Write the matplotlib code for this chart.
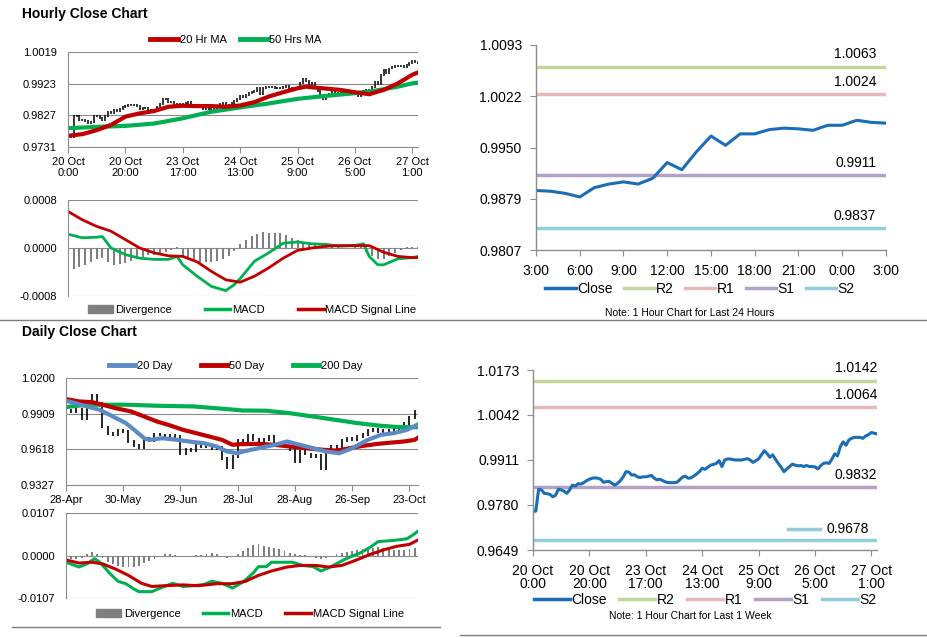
import numpy as np
import matplotlib
matplotlib.use('Agg')
import matplotlib.pyplot as plt
import matplotlib.transforms as mtrans
from matplotlib.lines import Line2D
from matplotlib.patches import Patch

plt.rcParams['font.family'] = ['Liberation Sans', 'DejaVu Sans']

# ---------------- data ----------------
hourly_tick_idx = [0, 20, 40, 60, 80, 100, 120]
hourly_labels = ['20 Oct\n0:00', '20 Oct\n20:00', '23 Oct\n17:00', '24 Oct\n13:00',
                 '25 Oct\n9:00', '26 Oct\n5:00', '27 Oct\n1:00']
hourly_close = [0.9762, 0.9762, 0.9826, 0.9824, 0.9814, 0.9813, 0.9811, 0.9804, 0.9808, 0.9826,
                0.9824, 0.9820, 0.9814, 0.9824, 0.9838, 0.9835, 0.9842, 0.9841, 0.9845, 0.9851,
                0.9855, 0.9858, 0.9859, 0.9858, 0.9855, 0.9846, 0.9848, 0.9849, 0.9843, 0.9838,
                0.9843, 0.9851, 0.9862, 0.9877, 0.9876, 0.9867, 0.9868, 0.9862, 0.9860, 0.9862,
                0.9862, 0.9864, 0.9866, 0.9858, 0.9853, 0.9855, 0.9851, 0.9847, 0.9845, 0.9845,
                0.9845, 0.9846, 0.9853, 0.9861, 0.9864, 0.9858, 0.9859, 0.9864, 0.9870, 0.9877,
                0.9887, 0.9884, 0.9890, 0.9896, 0.9898, 0.9901, 0.9909, 0.9892, 0.9911, 0.9914,
                0.9914, 0.9912, 0.9911, 0.9911, 0.9911, 0.9913, 0.9915, 0.9911, 0.9904, 0.9909,
                0.9914, 0.9926, 0.9938, 0.9930, 0.9919, 0.9926, 0.9913, 0.9901, 0.9890, 0.9877,
                0.9885, 0.9892, 0.9899, 0.9896, 0.9894, 0.9895, 0.9892, 0.9895, 0.9892, 0.9892,
                0.9891, 0.9885, 0.9894, 0.9901, 0.9903, 0.9901, 0.9913, 0.9929, 0.9923, 0.9950,
                0.9964, 0.9954, 0.9969, 0.9974, 0.9977, 0.9977, 0.9977, 0.9974, 0.9981, 0.9985,
                0.9991, 0.9989, 0.9987]
ma20_idx = [0, 5, 10, 15, 20, 25, 30, 35, 40, 45, 50, 55, 60, 65, 70, 75, 80, 83, 85, 90,
            95, 100, 105, 110, 115, 120, 122]
ma20_val = [0.9765, 0.9770, 0.9782, 0.9798, 0.9823, 0.9833, 0.9840, 0.9853, 0.9856, 0.9855,
            0.9855, 0.9853, 0.9857, 0.9867, 0.9884, 0.9897, 0.9909, 0.9914, 0.9912, 0.9908,
            0.9904, 0.9897, 0.9891, 0.9904, 0.9924, 0.9950, 0.9957]
ma50_idx = [0, 10, 20, 30, 40, 50, 60, 70, 80, 90, 100, 105, 110, 115, 120, 122]
ma50_val = [0.9788, 0.9792, 0.9795, 0.9802, 0.9818, 0.9838, 0.9851, 0.9863, 0.9877, 0.9886,
            0.9894, 0.9899, 0.9906, 0.9914, 0.9924, 0.9926]
h_macd_idx = [0, 5, 10, 12, 15, 20, 25, 30, 35, 38, 40, 45, 50, 55, 58, 60, 65, 70, 75, 80,
              85, 90, 95, 100, 103, 105, 108, 110, 113, 115, 120, 122]
h_macd_val = [0.00023, 0.00017, 0.00018, 0.00019, 0.0, -0.00011, -0.00017, -0.00019, -0.00019,
              -0.00014, -0.00028, -0.00047, -0.00064, -0.00071, -0.00061, -0.00051, -0.00022,
              -0.00008, 0.00008, 0.00010, 0.00007, 0.00006, 0.00003, 0.00004, 0.00007, -0.00014,
              -0.00028, -0.00028, -0.00022, -0.00018, -0.00016, -0.00014]
h_sig_idx = [0, 5, 10, 15, 20, 25, 30, 35, 40, 45, 50, 55, 60, 65, 70, 75, 80, 85, 90, 95,
             100, 105, 110, 115, 120, 122]
h_sig_val = [0.00061, 0.00047, 0.00036, 0.00028, 0.00014, 0.0, -0.00008, -0.00013, -0.00014,
             -0.00023, -0.00039, -0.00053, -0.00057, -0.00047, -0.00033, -0.00017, -0.00004,
             0.0, 0.00003, 0.00004, 0.00004, 0.00004, -0.00007, -0.00014, -0.00016, -0.00016]
h_div_val = [-3.8, -3.5, -3.2, -2.8, -2.3, -1.8, -1.6, -2.4, -2.8, -2.7,
             -2.5, -2.2, -1.8, -1.5, -1.2, -1.1, -0.9, -0.7, -0.3, 0.1,
             -1.3, -1.8, -2.2, -2.4, -2.4, -2.4, -2.2, -1.9, -1.4, -0.5,
             0.6, 1.3, 2.0, 2.4, 2.6, 2.5, 2.5, 2.5, 2.2, 1.7,
             1.3, 1.0, 0.7, 0.5, 0.4, 0.3, 0.2, 0.1, 0.0, 0.0,
             0.1, 0.2, -0.6, -1.3, -1.8, -1.9, -1.4, -0.8, -0.3, 0.1,
             0.1, 0.1]  # x1e-4, every 2nd hour

day24_labels = ['3:00', '6:00', '9:00', '12:00', '15:00', '18:00', '21:00', '0:00', '3:00']
day24_close = [0.9890, 0.9889, 0.9886, 0.9881, 0.9894, 0.9899, 0.9902, 0.9899, 0.9907, 0.9929,
               0.9919, 0.9944, 0.9966, 0.9953, 0.9969, 0.9969, 0.9975, 0.9977, 0.9976, 0.9974,
               0.9981, 0.9981, 0.9988, 0.9985, 0.9984]
day24_levels = {'R2': 1.0063, 'R1': 1.0024, 'S1': 0.9911, 'S2': 0.9837}
day24_yticks = ['0.9807', '0.9879', '0.9950', '1.0022', '1.0093']

week_levels = {'R2': 1.0142, 'R1': 1.0064, 'S1': 0.9832, 'S2': 0.9678}
week_yticks = ['0.9649', '0.9780', '0.9911', '1.0042', '1.0173']

daily_tick_idx = [0, 22, 44, 66, 88, 110, 132]
daily_labels = ['28-Apr', '30-May', '29-Jun', '28-Jul', '28-Aug', '26-Sep', '23-Oct']
daily_close = [0.9935, 0.9925, 0.9940, 0.9870, 0.9960, 1.0060, 0.9990, 0.9800, 0.9745, 0.9735,
               0.9770, 0.9760, 0.9680, 0.9650, 0.9630, 0.9705, 0.9690, 0.9740, 0.9735, 0.9720,
               0.9730, 0.9720, 0.9580, 0.9620, 0.9610, 0.9650, 0.9640, 0.9650, 0.9625, 0.9635,
               0.9540, 0.9470, 0.9560, 0.9690, 0.9680, 0.9730, 0.9700, 0.9680, 0.9700, 0.9720,
               0.9660, 0.9650, 0.9640, 0.9620, 0.9520, 0.9600, 0.9580, 0.9560, 0.9570, 0.9460,
               0.9600, 0.9640, 0.9610, 0.9690, 0.9710, 0.9700, 0.9720, 0.9740, 0.9770, 0.9780,
               0.9760, 0.9770, 0.9770, 0.9790, 0.9800, 0.9830, 0.9880, 0.9930]  # every 2nd day
d20_idx = [0, 8, 13, 18, 23, 27, 30, 32, 37, 43, 48, 53, 58, 62, 66, 68, 74, 80, 85, 90, 95,
           100, 105, 110, 116, 121, 126, 131, 135]
d20_val = [1.0015, 0.9968, 0.9940, 0.9886, 0.9832, 0.9763, 0.9709, 0.9695, 0.9709, 0.9695,
           0.9680, 0.9668, 0.9640, 0.9600, 0.9586, 0.9600, 0.9627, 0.9654, 0.9682, 0.9654,
           0.9627, 0.9600, 0.9586, 0.9627, 0.9695, 0.9736, 0.9750, 0.9777, 0.9818]
d50_idx = [0, 5, 10, 14, 19, 25, 30, 35, 40, 45, 50, 55, 60, 64, 67, 74, 80, 86, 92, 99, 104,
           109, 114, 120, 125, 130, 134, 135]
d50_val = [1.0028, 1.0009, 1.0003, 0.9982, 0.9954, 0.9927, 0.9886, 0.9845, 0.9813, 0.9777,
           0.9750, 0.9723, 0.9695, 0.9655, 0.9660, 0.9663, 0.9655, 0.9641, 0.9627, 0.9614,
           0.9608, 0.9627, 0.9646, 0.9663, 0.9673, 0.9682, 0.9695, 0.9709]
d200_idx = [0, 8, 14, 23, 36, 49, 62, 68, 77, 86, 99, 112, 121, 128, 135]
d200_val = [0.9963, 0.9982, 0.9982, 0.9982, 0.9973, 0.9968, 0.9946, 0.9935, 0.9933, 0.9913,
            0.9873, 0.9832, 0.9810, 0.9799, 0.9799]
d_macd_idx = [0, 5, 8, 11, 13, 17, 20, 23, 26, 28, 33, 37, 41, 45, 49, 53, 56, 60, 64, 68,
              72, 74, 77, 79, 83, 87, 91, 95, 98, 101, 105, 109, 113, 117, 120, 126, 131, 133, 135]
d_macd_val = [-1.7, -2.9, -2.1, -0.8, -1.7, -4.6, -6.5, -7.1, -8.4, -9.1, -9.1, -8.0, -7.0,
              -7.8, -7.6, -7.3, -6.5, -7.0, -8.2, -6.7, -4.4, -2.8, -2.8, -1.7, -1.7, -1.7,
              -2.5, -2.8, -3.9, -3.1, -1.7, -0.4, 0.6, 2.1, 3.5, 3.8, 4.2, 5.0, 6.0]  # x1e-3
d_sig_idx = [0, 5, 10, 14, 19, 24, 29, 33, 38, 45, 51, 58, 64, 69, 74, 79, 85, 90, 96, 101,
             106, 111, 117, 122, 127, 132, 135]
d_sig_val = [-1.1, -1.9, -1.7, -2.1, -3.4, -5.0, -7.0, -7.8, -7.6, -7.4, -7.6, -7.1, -7.1,
             -6.5, -5.0, -3.9, -2.9, -2.5, -2.5, -2.9, -2.5, -1.3, 0.3, 1.4, 2.3, 2.8, 3.8]  # x1e-3
d_div_val = [-0.6, -0.8, -1.0, -0.6, 0.3, 0.8, 0.5, -0.6, -1.6, -2.2,
             -2.6, -2.8, -3.0, -3.0, -2.6, -2.0, -1.4, -0.8, -0.2, 0.3,
             0.3, 0.1, -0.2, -0.1, 0.0, 0.1, 0.2, 0.5, 0.6, 0.3,
             -0.2, -0.6, -0.4, 0.5, 1.2, 2.0, 2.6, 2.8, 2.4, 2.2,
             2.0, 1.6, 1.2, 0.7, 0.3, 0.2, 0.1, -0.2, -0.6, -0.9,
             -0.6, -0.2, 0.3, 0.6, 0.8, 1.1, 1.4, 1.6, 1.8, 2.0,
             2.2, 2.0, 1.7, 1.5, 1.4, 1.5, 1.7, 1.9]  # x1e-3, every 2nd day

# ---------------- style ----------------
RED = '#c00000'
GREEN = '#00b050'
BLUE20 = '#5b8ac6'
CLOSE = '#1b6db5'
LEVEL_COL = {'R2': '#c4d79b', 'R1': '#e6b9b8', 'S1': '#b3a2c7', 'S2': '#93cddd'}
GRID = '#8c8c8c'
DIVC = '#7f7f7f'

W, H = 928, 638
fig = plt.figure(figsize=(W / 100, H / 100), dpi=100)


def box(l, t, r, b):
    return fig.add_axes([l / W, 1 - b / H, (r - l) / W, (b - t) / H])


def fx(px):
    return px / W


def fy(py):
    return 1 - py / H


def left_style(ax):
    for s in ['top', 'right']:
        ax.spines[s].set_visible(False)
    for s in ['left', 'bottom']:
        ax.spines[s].set_color(GRID)
        ax.spines[s].set_linewidth(0.8)
    ax.grid(axis='y', color=GRID, linewidth=0.8)
    ax.set_axisbelow(True)
    ax.tick_params(axis='y', length=0, pad=8, labelsize=8)
    ax.tick_params(axis='x', length=4, color=GRID, labelsize=8, pad=3)


def right_style(ax):
    for s in ['top', 'right']:
        ax.spines[s].set_visible(False)
    for s in ['left', 'bottom']:
        ax.spines[s].set_color(GRID)
        ax.spines[s].set_linewidth(1.0)
    ax.tick_params(axis='both', length=4, color=GRID, labelsize=10, pad=6)


# ---------------- Hourly close chart ----------------
fig.text(fx(22), fy(14), 'Hourly Close Chart', fontsize=10, fontweight='bold', va='center')
axh = box(68, 52, 418, 147)
left_style(axh)
hc = np.array(hourly_close)
hx = np.arange(len(hc))
prev = np.concatenate([[hc[0]], hc[:-1]])
axh.vlines(hx, np.minimum(prev, hc) - 0.0003, np.maximum(prev, hc) + 0.0003, color='black', linewidth=1.1)
axh.plot(ma50_idx, ma50_val, color=GREEN, linewidth=3)
axh.plot(ma20_idx, ma20_val, color=RED, linewidth=3)
axh.set_xlim(0, len(hc) - 1)
axh.set_ylim(0.9731, 1.0019)
axh.set_yticks([0.9731, 0.9827, 0.9923, 1.0019])
axh.set_yticklabels(['0.9731', '0.9827', '0.9923', '1.0019'])
axh.set_xticks(hourly_tick_idx)
axh.set_xticklabels(hourly_labels)
axh.legend(handles=[Line2D([], [], color=RED, lw=3.5, label='20 Hr MA'),
                    Line2D([], [], color=GREEN, lw=3.5, label='50 Hrs MA')],
           loc='center', bbox_to_anchor=(fx(236), fy(40)), bbox_transform=fig.transFigure,
           ncol=2, frameon=False, fontsize=8, handlelength=2.5, handletextpad=0.15,
           columnspacing=1.2, borderpad=0)

axhm = box(68, 200, 418, 296)
left_style(axhm)
axhm.tick_params(axis='x', length=0, labelbottom=False)
axhm.spines['bottom'].set_visible(False)
axhm.bar(np.arange(len(h_div_val)) * 2, np.array(h_div_val) * 1e-4, width=0.7, color=DIVC)
axhm.plot(h_macd_idx, h_macd_val, color=GREEN, linewidth=2)
axhm.plot(h_sig_idx, h_sig_val, color=RED, linewidth=2)
axhm.set_xlim(0, len(hc) - 1)
axhm.set_ylim(-0.0008, 0.0008)
axhm.set_yticks([-0.0008, 0.0, 0.0008])
axhm.set_yticklabels(['-0.0008', '0.0000', '0.0008'])
axhm.legend(handles=[Patch(color=DIVC, label='Divergence'),
                     Line2D([], [], color=GREEN, lw=2.5, label='MACD'),
                     Line2D([], [], color=RED, lw=2.5, label='MACD Signal Line')],
            loc='center', bbox_to_anchor=(fx(252), fy(310)), bbox_transform=fig.transFigure,
            ncol=3, frameon=False, fontsize=8, handlelength=2.3, handletextpad=0.15,
            columnspacing=3.0, borderpad=0)

# ---------------- Daily close chart ----------------
fig.text(fx(22), fy(332), 'Daily Close Chart', fontsize=10, fontweight='bold', va='center')
axd = box(66, 378, 418, 485)
left_style(axd)
dc = np.array(daily_close)
dx = np.arange(len(dc)) * 2
dprev = np.concatenate([[dc[0]], dc[:-1]])
axd.vlines(dx, np.minimum(dprev, dc) - 0.0012, np.maximum(dprev, dc) + 0.0012, color='black', linewidth=1.2)
axd.plot(d200_idx, d200_val, color=GREEN, linewidth=3)
axd.plot(d50_idx, d50_val, color=RED, linewidth=3)
axd.plot(d20_idx, d20_val, color=BLUE20, linewidth=3)
axd.set_xlim(0, 135.3)
axd.set_ylim(0.9327, 1.0200)
axd.set_yticks([0.9327, 0.9618, 0.9909, 1.0200])
axd.set_yticklabels(['0.9327', '0.9618', '0.9909', '1.0200'])
axd.set_xticks(daily_tick_idx)
axd.set_xticklabels(daily_labels)
axd.legend(handles=[Line2D([], [], color=BLUE20, lw=3.5, label='20 Day'),
                    Line2D([], [], color=RED, lw=3.5, label='50 Day'),
                    Line2D([], [], color=GREEN, lw=3.5, label='200 Day')],
           loc='center', bbox_to_anchor=(fx(236), fy(366)), bbox_transform=fig.transFigure,
           ncol=3, frameon=False, fontsize=8, handlelength=2.3, handletextpad=0.2,
           columnspacing=2.6, borderpad=0)

axdm = box(66, 513, 418, 598)
left_style(axdm)
axdm.tick_params(axis='x', length=0, labelbottom=False)
axdm.spines['bottom'].set_visible(False)
axdm.bar(np.arange(len(d_div_val)) * 2, np.array(d_div_val) * 1e-3, width=0.7, color=DIVC)
axdm.plot(d_macd_idx, np.array(d_macd_val) * 1e-3, color=GREEN, linewidth=2.2)
axdm.plot(d_sig_idx, np.array(d_sig_val) * 1e-3, color=RED, linewidth=2.2)
axdm.set_xlim(0, 135.3)
axdm.set_ylim(-0.0107, 0.0107)
axdm.set_yticks([-0.0107, 0.0, 0.0107])
axdm.set_yticklabels(['-0.0107', '0.0000', '0.0107'])
axdm.legend(handles=[Patch(color=DIVC, label='Divergence'),
                     Line2D([], [], color=GREEN, lw=2.5, label='MACD'),
                     Line2D([], [], color=RED, lw=2.5, label='MACD Signal Line')],
            loc='center', bbox_to_anchor=(fx(250), fy(614)), bbox_transform=fig.transFigure,
            ncol=3, frameon=False, fontsize=8, handlelength=2.3, handletextpad=0.2,
            columnspacing=2.0, borderpad=0)

# ---------------- 24 hour chart ----------------
axr = box(536, 45, 886, 250)
right_style(axr)
c24 = np.array(day24_close)
x24 = np.arange(len(c24))
for name in ['R2', 'R1', 'S1', 'S2']:
    axr.axhline(day24_levels[name], color=LEVEL_COL[name], linewidth=2.5)
    axr.annotate('%.4f' % day24_levels[name], xy=(x24[-1], day24_levels[name]),
                 xytext=(-7, 9), textcoords='offset points', ha='right', va='center', fontsize=10)
axr.plot(x24, c24, color=CLOSE, linewidth=2.2)
axr.set_xlim(0, len(c24) - 1)
axr.set_ylim(0.9807, 1.0093)
axr.set_yticks(np.linspace(0.9807, 1.0093, 5))
axr.set_yticklabels(day24_yticks)
axr.set_xticks(np.arange(0, len(c24), 3))
axr.set_xticklabels(day24_labels)
leg_handles = [Line2D([], [], color=CLOSE, lw=2.5, label='Close')] + \
    [Line2D([], [], color=LEVEL_COL[n], lw=2.5, label=n) for n in ['R2', 'R1', 'S1', 'S2']]
axr.legend(handles=leg_handles, loc='center', bbox_to_anchor=(fx(700), fy(289)),
           bbox_transform=fig.transFigure, ncol=5, frameon=False, fontsize=10,
           handlelength=2.2, handletextpad=0.1, columnspacing=0.8, borderpad=0)
fig.text(fx(690), fy(313), 'Note: 1 Hour Chart for Last 24 Hours', fontsize=7.5, ha='center', va='center')

# ---------------- 1 week chart ----------------
axw = box(533, 370, 877, 550)
right_style(axw)
for name in ['R2', 'R1', 'S1', 'S2']:
    axw.axhline(week_levels[name], color=LEVEL_COL[name], linewidth=2.5)
for name in ['R2', 'R1', 'S1']:
    axw.annotate('%.4f' % week_levels[name], xy=(1.0, week_levels[name]),
                 xycoords=('axes fraction', 'data'),
                 xytext=(0, 9), textcoords='offset points', ha='right', va='center', fontsize=10)
axw.annotate('%.4f' % week_levels['S2'], xy=(1.0, week_levels['S2']),
             xycoords=('axes fraction', 'data'),
             xytext=(-6, 8), textcoords='offset points', ha='right', va='center', fontsize=10)
off = mtrans.offset_copy(axw.get_yaxis_transform(), fig=fig, x=0, y=8, units='points')
axw.plot([0.741, 0.834], [week_levels['S2']] * 2, color=LEVEL_COL['S2'], linewidth=2.5,
         transform=off, clip_on=False)
axw.plot(hx, hc, color=CLOSE, linewidth=2.2)
axw.set_xlim(0, len(hc) - 1)
axw.set_ylim(0.9649, 1.0173)
axw.set_yticks(np.linspace(0.9649, 1.0173, 5))
axw.set_yticklabels(week_yticks)
axw.set_xticks(hourly_tick_idx)
axw.set_xticklabels(hourly_labels, linespacing=0.95)
axw.legend(handles=leg_handles, loc='center', bbox_to_anchor=(fx(705), fy(600)),
           bbox_transform=fig.transFigure, ncol=5, frameon=False, fontsize=10,
           handlelength=2.6, handletextpad=0.1, columnspacing=0.9, borderpad=0)
fig.text(fx(690), fy(616), 'Note: 1 Hour Chart for Last 1 Week', fontsize=7.5, ha='center', va='center')

# ---------------- separators ----------------
fig.add_artist(Line2D([0, 1], [fy(320), fy(320)], color='#7f7f7f', linewidth=1.0))
fig.add_artist(Line2D([fx(12), fx(440)], [fy(627), fy(627)], color='#7f7f7f', linewidth=1.0))
fig.add_artist(Line2D([fx(460), 1], [fy(635), fy(635)], color='#7f7f7f', linewidth=1.0))

fig.savefig('out.png', dpi=100)
